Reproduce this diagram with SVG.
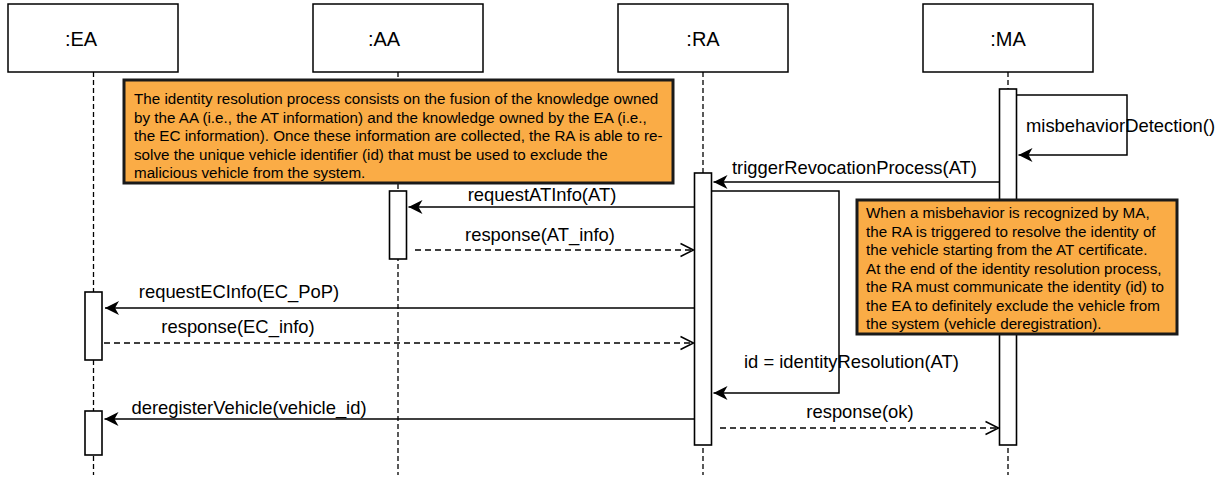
<svg xmlns="http://www.w3.org/2000/svg" width="1229" height="479" viewBox="0 0 1229 479">
<style>
.box{fill:#fff;stroke:#000;stroke-width:1.5}
.act{fill:#fff;stroke:#000;stroke-width:1.6}
.life{stroke:#000;stroke-width:1.3;stroke-dasharray:5 3;fill:none}
.msg{stroke:#000;stroke-width:1.5;fill:none}
.ret{stroke:#000;stroke-width:1.5;fill:none;stroke-dasharray:6 4}
.note{fill:#FAAC46;stroke:#1a1a1a;stroke-width:3}
.lbl{font-family:"Liberation Sans",Arial,sans-serif;font-size:20px;fill:#000}
.m{font-family:"Liberation Sans",Arial,sans-serif;font-size:18.4px;fill:#000}
.nt{font-family:"Liberation Sans",Arial,sans-serif;font-size:15.2px;fill:#000}
.c{text-anchor:middle}
</style>
<defs>
<marker id="fa" viewBox="-16 -8 18 16" refX="0" refY="0" markerWidth="18" markerHeight="16" orient="auto" markerUnits="userSpaceOnUse">
<path d="M0,0 L-14,-7 L-10,0 L-14,7 Z" fill="#000"/>
</marker>
<marker id="oa" viewBox="-15 -9 17 18" refX="0" refY="0" markerWidth="17" markerHeight="18" orient="auto" markerUnits="userSpaceOnUse">
<path d="M-13,-6.5 L0,0 L-13,6.5" fill="none" stroke="#000" stroke-width="1.5"/>
</marker>
</defs>

<g id="EA">
<rect class="box" x="8" y="4" width="170" height="68"/>
<text class="lbl c" x="81" y="46">:EA</text>
<line class="life" x1="93.5" y1="72" x2="93.5" y2="475"/>
<rect class="act" x="85" y="292" width="17" height="68"/>
<rect class="act" x="85" y="411" width="17" height="44"/>
</g>

<g id="AA">
<rect class="box" x="313" y="4" width="170" height="68"/>
<text class="lbl c" x="384" y="46">:AA</text>
<line class="life" x1="398" y1="72" x2="398" y2="475"/>
<rect class="act" x="389.5" y="191" width="17" height="68"/>
</g>

<g id="RA">
<rect class="box" x="618" y="4" width="170" height="68"/>
<text class="lbl c" x="703" y="46">:RA</text>
<line class="life" x1="703" y1="72" x2="703" y2="475"/>
<rect class="act" x="694.5" y="173" width="17" height="272"/>
</g>

<g id="MA">
<rect class="box" x="923" y="4" width="170" height="68"/>
<text class="lbl c" x="1008" y="46">:MA</text>
<line class="life" x1="1008" y1="72" x2="1008" y2="475"/>
<rect class="act" x="999.5" y="89" width="17" height="356"/>
</g>

<g id="connectors">
<path class="msg" d="M1016.5,95 H1127 V155 H1018.5" marker-end="url(#fa)"/>
<text class="m" x="1026" y="132">misbehaviorDetection()</text>
<path class="msg" d="M999.5,182 H713.5" marker-end="url(#fa)"/>
<text class="m" x="732" y="174">triggerRevocationProcess(AT)</text>
<path class="msg" d="M711.5,191 H839 V393 H713.5" marker-end="url(#fa)"/>
<text class="m" x="744" y="368">id = identityResolution(AT)</text>
<path class="msg" d="M694.5,207 H408.5" marker-end="url(#fa)"/>
<text class="m c" x="542" y="201">requestATInfo(AT)</text>
<path class="ret" d="M415,250 H693.5" marker-end="url(#oa)"/>
<text class="m c" x="540" y="241">response(AT_info)</text>
<path class="msg" d="M694.5,308 H105" marker-end="url(#fa)"/>
<text class="m c" x="239" y="298">requestECInfo(EC_PoP)</text>
<path class="ret" d="M104,343 H693.5" marker-end="url(#oa)"/>
<text class="m c" x="238" y="333">response(EC_info)</text>
<path class="msg" d="M694.5,419 H104.5" marker-end="url(#fa)"/>
<text class="m c" x="249" y="414">deregisterVehicle(vehicle_id)</text>
<path class="ret" d="M720,428 H998.5" marker-end="url(#oa)"/>
<text class="m c" x="860" y="418">response(ok)</text>
</g>

<g id="note1">
<rect class="note" x="124" y="80" width="549" height="103"/>
<text class="nt" x="134" y="104">The identity resolution process consists on the fusion of the knowledge owned</text>
<text class="nt" x="134" y="122.5">by the AA (i.e., the AT information) and the knowledge owned by the EA (i.e.,</text>
<text class="nt" x="134" y="141">the EC information). Once these information are collected, the RA is able to re-</text>
<text class="nt" x="134" y="159.5">solve the unique vehicle identifier (id) that must be used to exclude the</text>
<text class="nt" x="134" y="178">malicious vehicle from the system.</text>
</g>

<g id="note2">
<rect class="note" x="857" y="200" width="320" height="134"/>
<text class="nt" x="866" y="218">When a misbehavior is recognized by MA,</text>
<text class="nt" x="866" y="236.5">the RA is triggered to resolve the identity of</text>
<text class="nt" x="866" y="255">the vehicle starting from the AT certificate.</text>
<text class="nt" x="866" y="273.5">At the end of the identity resolution process,</text>
<text class="nt" x="866" y="292">the RA must communicate the identity (id) to</text>
<text class="nt" x="866" y="310.5">the EA to definitely exclude the vehicle from</text>
<text class="nt" x="866" y="329">the system (vehicle deregistration).</text>
</g>
</svg>
